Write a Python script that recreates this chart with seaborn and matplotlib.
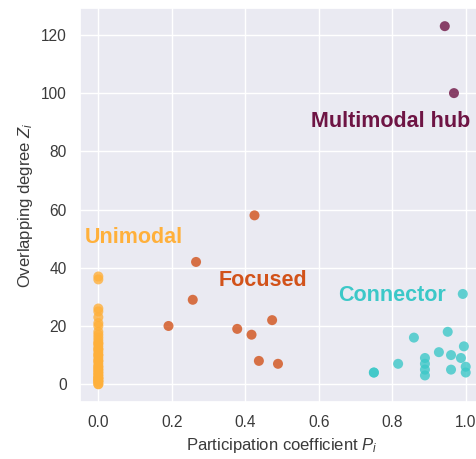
import numpy as np
import pandas as pd
import matplotlib
matplotlib.use("Agg")
import matplotlib.pyplot as plt
import seaborn as sns

# Node roles: participation coefficient P_i and overlapping degree Z_i
unimodal_z = [37, 36, 26, 25, 23, 21, 20, 18, 17,
              16, 15, 14, 13, 12, 11, 10, 9, 8, 7, 6, 5, 4, 3, 2, 1, 0,
              0, 1, 1, 2, 2, 3, 4, 5, 6, 8, 10, 12, 14]
unimodal_p = [0.0] * len(unimodal_z)

focused_p = [0.425, 0.266, 0.257, 0.191, 0.378, 0.417, 0.473, 0.437, 0.489]
focused_z = [58, 42, 29, 20, 19, 17, 22, 8, 7]

connector_p = [0.992, 0.859, 0.951, 0.995, 0.927, 0.960, 0.987, 0.889, 0.816,
               0.889, 1.0, 0.960, 1.0, 0.75, 0.889, 0.889, 0.75]
connector_z = [31, 16, 18, 13, 11, 10, 9, 9, 7,
               7, 6, 5, 4, 4, 3, 5, 4]

hub_p = [0.943, 0.968]
hub_z = [123, 100]

roles = ["Unimodal", "Focused", "Connector", "Multimodal hub"]
role_colors = ["#FFB03B", "#D2521A", "#3CC8C8", "#6E1444"]

df = pd.concat([
    pd.DataFrame({"P": unimodal_p, "Z": unimodal_z, "role": roles[0]}),
    pd.DataFrame({"P": focused_p, "Z": focused_z, "role": roles[1]}),
    pd.DataFrame({"P": connector_p, "Z": connector_z, "role": roles[2]}),
    pd.DataFrame({"P": hub_p, "Z": hub_z, "role": roles[3]}),
], ignore_index=True)

sns.set_theme(style="darkgrid")
plt.rcParams["font.family"] = ["Liberation Sans", "DejaVu Sans"]
plt.rcParams["mathtext.fontset"] = "custom"
plt.rcParams["mathtext.it"] = "Liberation Sans:italic"
plt.rcParams["mathtext.rm"] = "Liberation Sans"

fig = plt.figure(figsize=(4.76, 4.59), dpi=100)
ax = fig.add_axes([0.168, 0.124, 0.849, 0.858])

sns.scatterplot(data=df, x="P", y="Z", hue="role", hue_order=roles,
                palette=dict(zip(roles, role_colors)), s=52, alpha=0.8,
                linewidth=0, legend=False, ax=ax)

label_pos = {
    "Unimodal": (-0.037, 50.5),
    "Focused": (0.327, 35.7),
    "Connector": (0.654, 30.3),
    "Multimodal hub": (0.579, 90.4),
}
for role, color in zip(roles, role_colors):
    x, y = label_pos[role]
    ax.text(x, y, role, color=color, fontsize=15.5, fontweight="bold",
            ha="left", va="center")

ax.set_xticks([0.0, 0.2, 0.4, 0.6, 0.8, 1.0])
ax.set_yticks([0, 20, 40, 60, 80, 100, 120])
ax.tick_params(labelsize=11.2, colors="#3a3a3a")
ax.set_xlabel("Participation coefficient $P_i$", fontsize=12, color="#3a3a3a")
ax.set_ylabel("Overlapping degree $Z_i$", fontsize=12, color="#3a3a3a")

fig.savefig("out.png", dpi=100)
